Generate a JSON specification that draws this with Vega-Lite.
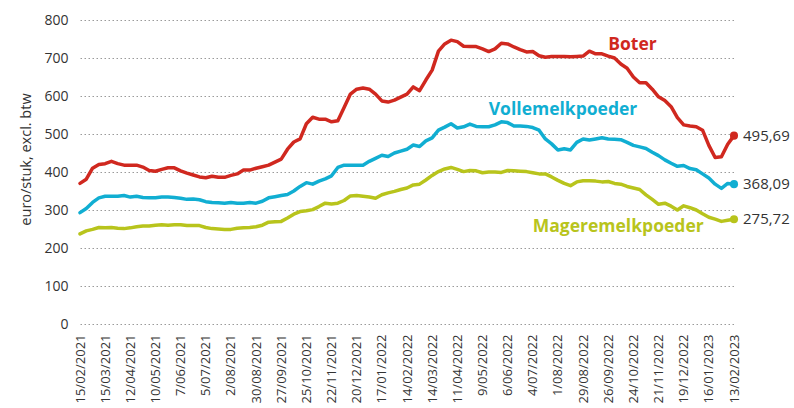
{
  "$schema": "https://vega.github.io/schema/vega-lite/v6.json",
  "width": 654,
  "height": 304,
  "autosize": {"type": "none"},
  "padding": {"left": 80, "top": 20, "right": 60, "bottom": 84},
  "config": {"view": {"stroke": null}, "font": "Open Sans"},
  "datasets": {
    "prices": [
      {"d":"2021-02-15","B":370,"V":293,"M":237},
      {"d":"2021-02-22","B":381,"V":304,"M":245},
      {"d":"2021-03-01","B":410,"V":320,"M":249},
      {"d":"2021-03-08","B":420,"V":332,"M":254},
      {"d":"2021-03-15","B":422,"V":336,"M":253},
      {"d":"2021-03-22","B":428,"V":336,"M":254},
      {"d":"2021-03-29","B":422,"V":336,"M":252},
      {"d":"2021-04-05","B":418,"V":338,"M":251},
      {"d":"2021-04-12","B":418,"V":334,"M":253},
      {"d":"2021-04-19","B":418,"V":336,"M":256},
      {"d":"2021-04-26","B":413,"V":333,"M":258},
      {"d":"2021-05-03","B":404,"V":332,"M":258},
      {"d":"2021-05-10","B":402,"V":332,"M":260},
      {"d":"2021-05-17","B":407,"V":334,"M":261},
      {"d":"2021-05-24","B":411,"V":334,"M":260},
      {"d":"2021-05-31","B":411,"V":333,"M":261},
      {"d":"2021-06-07","B":403,"V":331,"M":261},
      {"d":"2021-06-14","B":397,"V":328,"M":259},
      {"d":"2021-06-21","B":392,"V":329,"M":259},
      {"d":"2021-06-28","B":387,"V":327,"M":259},
      {"d":"2021-07-05","B":385,"V":322,"M":254},
      {"d":"2021-07-12","B":389,"V":320,"M":251},
      {"d":"2021-07-19","B":386,"V":319,"M":250},
      {"d":"2021-07-26","B":386,"V":318,"M":249},
      {"d":"2021-08-02","B":391,"V":320,"M":249},
      {"d":"2021-08-09","B":395,"V":318,"M":252},
      {"d":"2021-08-16","B":405,"V":318,"M":253},
      {"d":"2021-08-23","B":405,"V":320,"M":254},
      {"d":"2021-08-30","B":410,"V":318,"M":256},
      {"d":"2021-09-06","B":414,"V":323,"M":260},
      {"d":"2021-09-13","B":418,"V":332,"M":268},
      {"d":"2021-09-20","B":426,"V":335,"M":269},
      {"d":"2021-09-27","B":434,"V":338,"M":270},
      {"d":"2021-10-04","B":460,"V":341,"M":279},
      {"d":"2021-10-11","B":479,"V":350,"M":289},
      {"d":"2021-10-18","B":487,"V":362,"M":296},
      {"d":"2021-10-25","B":527,"V":372,"M":298},
      {"d":"2021-11-01","B":544,"V":368,"M":301},
      {"d":"2021-11-08","B":539,"V":376,"M":309},
      {"d":"2021-11-15","B":539,"V":382,"M":318},
      {"d":"2021-11-22","B":532,"V":390,"M":316},
      {"d":"2021-11-29","B":535,"V":412,"M":318},
      {"d":"2021-12-06","B":570,"V":418,"M":325},
      {"d":"2021-12-13","B":605,"V":418,"M":337},
      {"d":"2021-12-20","B":618,"V":418,"M":338},
      {"d":"2021-12-27","B":621,"V":418,"M":336},
      {"d":"2022-01-03","B":618,"V":428,"M":334},
      {"d":"2022-01-10","B":605,"V":436,"M":331},
      {"d":"2022-01-17","B":587,"V":444,"M":340},
      {"d":"2022-01-24","B":584,"V":441,"M":345},
      {"d":"2022-01-31","B":589,"V":450,"M":349},
      {"d":"2022-02-07","B":597,"V":455,"M":354},
      {"d":"2022-02-14","B":605,"V":460,"M":358},
      {"d":"2022-02-21","B":624,"V":471,"M":366},
      {"d":"2022-02-28","B":614,"V":467,"M":368},
      {"d":"2022-03-07","B":642,"V":482,"M":379},
      {"d":"2022-03-14","B":668,"V":490,"M":391},
      {"d":"2022-03-21","B":718,"V":510,"M":401},
      {"d":"2022-03-28","B":737,"V":518,"M":408},
      {"d":"2022-04-04","B":747,"V":527,"M":412},
      {"d":"2022-04-11","B":743,"V":516,"M":407},
      {"d":"2022-04-18","B":731,"V":519,"M":401},
      {"d":"2022-04-25","B":730,"V":526,"M":404},
      {"d":"2022-05-02","B":730,"V":520,"M":403},
      {"d":"2022-05-09","B":724,"V":519,"M":398},
      {"d":"2022-05-16","B":717,"V":519,"M":400},
      {"d":"2022-05-23","B":724,"V":524,"M":400},
      {"d":"2022-05-30","B":739,"V":532,"M":399},
      {"d":"2022-06-06","B":737,"V":530,"M":404},
      {"d":"2022-06-13","B":729,"V":521,"M":403},
      {"d":"2022-06-20","B":722,"V":521,"M":402},
      {"d":"2022-06-27","B":716,"V":520,"M":401},
      {"d":"2022-07-04","B":717,"V":517,"M":398},
      {"d":"2022-07-11","B":706,"V":510,"M":395},
      {"d":"2022-07-18","B":702,"V":487,"M":395},
      {"d":"2022-07-25","B":704,"V":474,"M":387},
      {"d":"2022-08-01","B":704,"V":458,"M":378},
      {"d":"2022-08-08","B":704,"V":461,"M":370},
      {"d":"2022-08-15","B":703,"V":458,"M":364},
      {"d":"2022-08-22","B":704,"V":478,"M":374},
      {"d":"2022-08-29","B":705,"V":487,"M":377},
      {"d":"2022-09-05","B":718,"V":484,"M":377},
      {"d":"2022-09-12","B":711,"V":487,"M":376},
      {"d":"2022-09-19","B":711,"V":490,"M":374},
      {"d":"2022-09-26","B":705,"V":487,"M":375},
      {"d":"2022-10-03","B":700,"V":486,"M":370},
      {"d":"2022-10-10","B":684,"V":485,"M":368},
      {"d":"2022-10-17","B":673,"V":478,"M":362},
      {"d":"2022-10-24","B":650,"V":470,"M":358},
      {"d":"2022-10-31","B":635,"V":466,"M":354},
      {"d":"2022-11-07","B":635,"V":462,"M":340},
      {"d":"2022-11-14","B":618,"V":452,"M":328},
      {"d":"2022-11-21","B":598,"V":443,"M":315},
      {"d":"2022-11-28","B":588,"V":432,"M":318},
      {"d":"2022-12-05","B":572,"V":423,"M":310},
      {"d":"2022-12-12","B":543,"V":415,"M":300},
      {"d":"2022-12-19","B":524,"V":417,"M":311},
      {"d":"2022-12-26","B":521,"V":409,"M":306},
      {"d":"2023-01-02","B":519,"V":406,"M":300},
      {"d":"2023-01-09","B":510,"V":395,"M":290},
      {"d":"2023-01-16","B":470,"V":384,"M":281},
      {"d":"2023-01-23","B":438,"V":368,"M":276},
      {"d":"2023-01-30","B":440,"V":357,"M":270},
      {"d":"2023-02-06","B":473,"V":370,"M":273},
      {"d":"2023-02-13","B":495.69,"V":368.09,"M":275.72}
    ],
    "ends": [
      {"d":"2023-02-13","s":"B","v":495.69,"t":"495,69"},
      {"d":"2023-02-13","s":"V","v":368.09,"t":"368,09"},
      {"d":"2023-02-13","s":"M","v":275.72,"t":"275,72"}
    ],
    "names": [
      {"d":"2022-09-26","s":"B","v":734,"t":"Boter"},
      {"d":"2022-05-16","s":"V","v":563,"t":"Vollemelkpoeder"},
      {"d":"2022-07-04","s":"M","v":255,"t":"Mageremelkpoeder"}
    ]
  },
  "encoding": {
    "x": {
      "field": "d",
      "type": "temporal",
      "scale": {"type": "utc", "nice": false},
      "axis": {
        "title": null,
        "format": "%-d/%m/%Y",
        "labelAngle": -90,
        "labelFontSize": 13,
        "labelColor": "#333333",
        "labelPadding": 10,
        "labelOverlap": false,
        "labelFlush": false,
        "ticks": false,
        "domain": false,
        "grid": false,
        "values": [
          {"year":2021,"month":2,"date":15,"utc":true},
          {"year":2021,"month":3,"date":15,"utc":true},
          {"year":2021,"month":4,"date":12,"utc":true},
          {"year":2021,"month":5,"date":10,"utc":true},
          {"year":2021,"month":6,"date":7,"utc":true},
          {"year":2021,"month":7,"date":5,"utc":true},
          {"year":2021,"month":8,"date":2,"utc":true},
          {"year":2021,"month":8,"date":30,"utc":true},
          {"year":2021,"month":9,"date":27,"utc":true},
          {"year":2021,"month":10,"date":25,"utc":true},
          {"year":2021,"month":11,"date":22,"utc":true},
          {"year":2021,"month":12,"date":20,"utc":true},
          {"year":2022,"month":1,"date":17,"utc":true},
          {"year":2022,"month":2,"date":14,"utc":true},
          {"year":2022,"month":3,"date":14,"utc":true},
          {"year":2022,"month":4,"date":11,"utc":true},
          {"year":2022,"month":5,"date":9,"utc":true},
          {"year":2022,"month":6,"date":6,"utc":true},
          {"year":2022,"month":7,"date":4,"utc":true},
          {"year":2022,"month":8,"date":1,"utc":true},
          {"year":2022,"month":8,"date":29,"utc":true},
          {"year":2022,"month":9,"date":26,"utc":true},
          {"year":2022,"month":10,"date":24,"utc":true},
          {"year":2022,"month":11,"date":21,"utc":true},
          {"year":2022,"month":12,"date":19,"utc":true},
          {"year":2023,"month":1,"date":16,"utc":true},
          {"year":2023,"month":2,"date":13,"utc":true}
        ]
      }
    },
    "y": {
      "field": "v",
      "type": "quantitative",
      "scale": {"domain": [0, 800], "nice": false},
      "axis": {
        "title": "euro/stuk, excl. btw",
        "titleFontSize": 14.5,
        "titleFontWeight": "normal",
        "titleColor": "#333333",
        "titleX": -47,
        "titleY": 139,
        "values": [0,100,200,300,400,500,600,700,800],
        "labelFontSize": 14,
        "labelColor": "#333333",
        "labelPadding": 12,
        "ticks": false,
        "domain": false,
        "grid": true,
        "gridColor": "#9a9a9a",
        "gridDash": [1.5, 2.5],
        "gridWidth": 1
      }
    },
    "color": {
      "field": "s",
      "type": "nominal",
      "scale": {"domain": ["B","V","M"], "range": ["#d0281f","#11aed2","#b8c41c"]},
      "legend": null
    }
  },
  "layer": [
    {
      "data": {"name": "prices"},
      "transform": [{"fold": ["B","V","M"], "as": ["s","v"]}],
      "mark": {"type": "line", "strokeWidth": 3.5, "strokeJoin": "round", "strokeCap": "round"}
    },
    {
      "data": {"name": "ends"},
      "mark": {"type": "point", "filled": true, "opacity": 1, "size": 65}
    },
    {
      "data": {"name": "ends"},
      "mark": {"type": "text", "align": "left", "baseline": "middle", "dx": 9, "fontSize": 15, "color": "#333333"},
      "encoding": {"text": {"field": "t"}, "color": {"value": "#333333"}}
    },
    {
      "data": {"name": "names"},
      "mark": {"type": "text", "align": "left", "baseline": "middle", "fontSize": 17.5, "fontWeight": "bold"},
      "encoding": {"text": {"field": "t"}}
    }
  ]
}
